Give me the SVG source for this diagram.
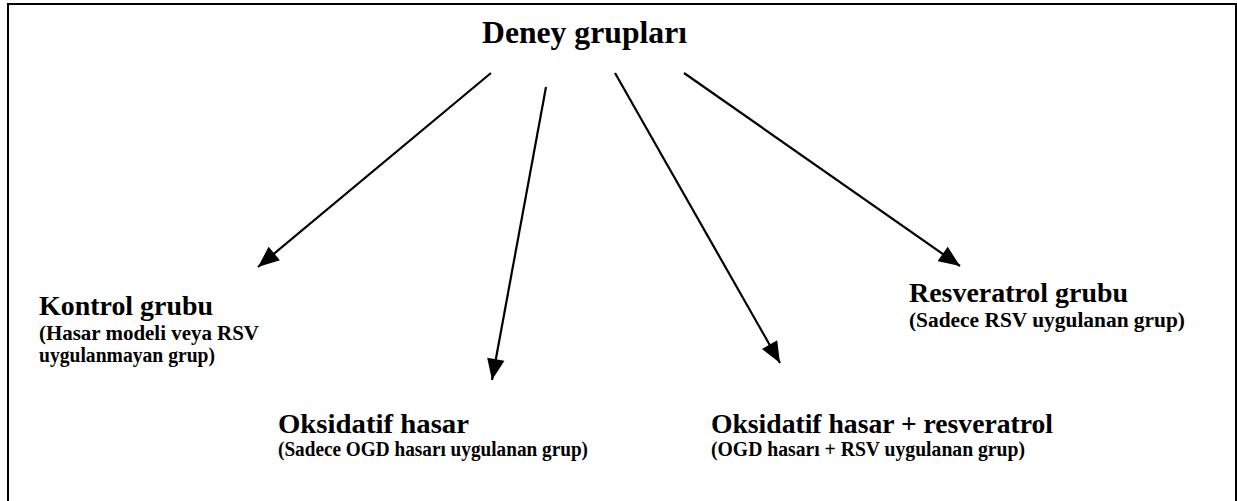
<svg xmlns="http://www.w3.org/2000/svg" width="1237" height="501" viewBox="0 0 1237 501">
  <style>
    text { font-family: "Liberation Serif", "Times New Roman", serif; font-weight: bold; fill: #000; }
    .title { font-size: 31px; }
    .head { font-size: 27px; }
    .sub { font-size: 20px; }
    .conn { stroke: #000; stroke-width: 2.2; fill: none; marker-end: url(#arrow); }
  </style>
  <defs>
    <marker id="arrow" viewBox="0 0 12 10" refX="12" refY="5" markerWidth="10" markerHeight="8" markerUnits="strokeWidth" orient="auto">
      <path d="M0,0 L12,5 L0,10 Z" fill="#000"/>
    </marker>
  </defs>

  <rect x="0" y="0" width="1237" height="501" fill="#fff"/>
  <!-- outer frame -->
  <rect x="8" y="4" width="1228" height="520" fill="none" stroke="#000" stroke-width="2"/>

  <g id="root">
    <text class="title" x="482" y="43" textLength="205" lengthAdjust="spacingAndGlyphs">Deney grupları</text>
  </g>

  <g id="connectors">
    <line class="conn" x1="491" y1="73" x2="258" y2="267"/>
    <line class="conn" x1="546" y1="87" x2="492" y2="380"/>
    <line class="conn" x1="615" y1="73" x2="780" y2="363"/>
    <line class="conn" x1="684" y1="73" x2="960" y2="266"/>
  </g>

  <g id="kontrol">
    <text class="head" x="39" y="315" textLength="174" lengthAdjust="spacingAndGlyphs">Kontrol grubu</text>
    <text class="sub" x="39" y="340" textLength="220" lengthAdjust="spacingAndGlyphs">(Hasar modeli veya RSV</text>
    <text class="sub" x="39" y="362" textLength="176" lengthAdjust="spacingAndGlyphs">uygulanmayan grup)</text>
  </g>

  <g id="oksidatif">
    <text class="head" x="278" y="433" textLength="191" lengthAdjust="spacingAndGlyphs">Oksidatif hasar</text>
    <text class="sub" x="278" y="456" textLength="310" lengthAdjust="spacingAndGlyphs">(Sadece OGD hasarı uygulanan grup)</text>
  </g>

  <g id="oksidatif-rsv">
    <text class="head" x="711" y="433" textLength="342" lengthAdjust="spacingAndGlyphs">Oksidatif hasar + resveratrol</text>
    <text class="sub" x="711" y="456" textLength="314" lengthAdjust="spacingAndGlyphs">(OGD hasarı + RSV uygulanan grup)</text>
  </g>

  <g id="resveratrol">
    <text class="head" x="909" y="302" textLength="219" lengthAdjust="spacingAndGlyphs">Resveratrol grubu</text>
    <text class="sub" x="909" y="327" textLength="276" lengthAdjust="spacingAndGlyphs">(Sadece RSV uygulanan grup)</text>
  </g>
</svg>
